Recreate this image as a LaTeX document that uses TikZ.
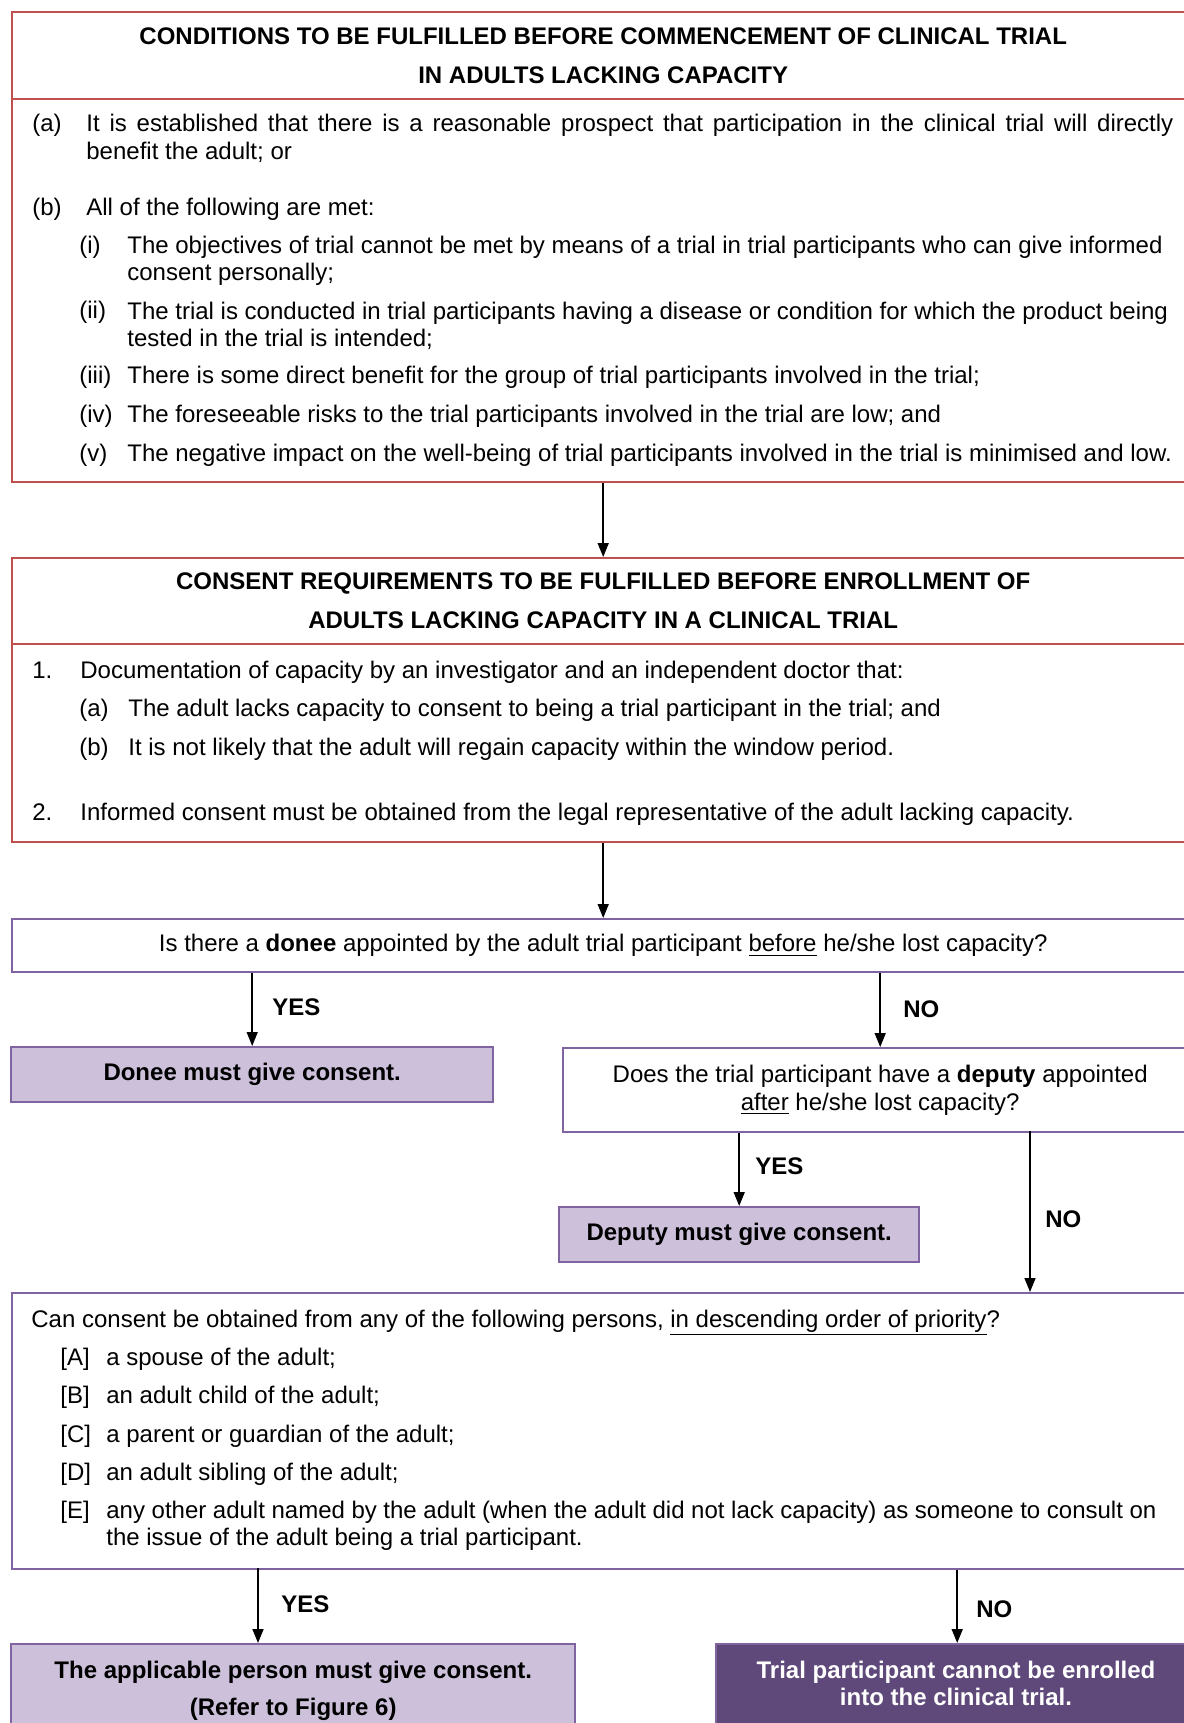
\documentclass[tikz,border=0pt]{standalone}
\usepackage{fontspec}
\setmainfont{Liberation Sans}
\usetikzlibrary{arrows.meta,positioning}
\definecolor{redline}{HTML}{C0504D}
\definecolor{purpline}{HTML}{8064A2}
\definecolor{lilac}{HTML}{CCC0DA}
\definecolor{plum}{HTML}{5F497A}

\begin{document}
\begin{tikzpicture}[
  x=0.5pt, y=-0.5pt,
  >={Triangle[length=7pt,width=5.5pt]},
  redbox/.style={draw=redline, line width=1.2pt, anchor=north west, inner sep=0pt},
  purpbox/.style={draw=purpline, line width=1.2pt, anchor=north west, inner sep=0pt},
  head/.style={align=center, font={\fontsize{12}{19.5}\selectfont\bfseries}},
  txt/.style={anchor=base west, inner sep=0pt, align=left, font={\fontsize{12}{13.5}\selectfont}},
  yn/.style={anchor=west, inner sep=0pt, font={\fontsize{12}{13}\selectfont\bfseries}},
  arr/.style={->, line width=0.8pt},
]
\useasboundingbox (0,0) rectangle (1183,1723);

% conditions before commencement
\node[redbox, head, minimum width=591pt, minimum height=43.5pt] (condhead) at (11,11)
  {CONDITIONS TO BE FULFILLED BEFORE COMMENCEMENT OF CLINICAL TRIAL\\IN ADULTS LACKING CAPACITY};
\node[redbox, minimum width=591pt, minimum height=191.5pt] (condbody) at (11,98) {};
\node[txt] (ca) at (32,132) {(a)};
\node[txt] (cat) at (86,159) {\makebox[543.5pt][s]{It is established that there is a reasonable prospect that participation in the clinical trial will directly}\\benefit the adult; or};
\node[txt] (cb) at (32,215) {(b)};
\node[txt] (cbt) at (86,215) {All of the following are met:};
\node[txt] (ci) at (79,253) {(i)};
\node[txt] (cit) at (127,280) {The objectives of trial cannot be met by means of a trial in trial participants who can give informed\\consent personally;};
\node[txt] (cii) at (79,318) {(ii)};
\node[txt] (ciit) at (127,346) {The trial is conducted in trial participants having a disease or condition for which the product being\\tested in the trial is intended;};
\node[txt] (ciii) at (79,383) {(iii)};
\node[txt] (ciiit) at (127,383) {There is some direct benefit for the group of trial participants involved in the trial;};
\node[txt] (civ) at (79,422) {(iv)};
\node[txt] (civt) at (127,422) {The foreseeable risks to the trial participants involved in the trial are low; and};
\node[txt] (cv) at (79,461) {(v)};
\node[txt] (cvt) at (127,461) {The negative impact on the well-being of trial participants involved in the trial is minimised and low.};

% consent requirements before enrollment
\node[redbox, head, minimum width=591pt, minimum height=43pt] (conshead) at (11,557)
  {CONSENT REQUIREMENTS TO BE FULFILLED BEFORE ENROLLMENT OF\\ADULTS LACKING CAPACITY IN A CLINICAL TRIAL};
\node[redbox, minimum width=591pt, minimum height=99pt] (consbody) at (11,643) {};
\node[txt] (r1) at (32,678) {1.};
\node[txt] (r1t) at (80,678) {Documentation of capacity by an investigator and an independent doctor that:};
\node[txt] (ra) at (79,716) {(a)};
\node[txt] (rat) at (128,716) {The adult lacks capacity to consent to being a trial participant in the trial; and};
\node[txt] (rb) at (79,755) {(b)};
\node[txt] (rbt) at (128,755) {It is not likely that the adult will regain capacity within the window period.};
\node[txt] (r2) at (32,820) {2.};
\node[txt] (r2t) at (80,820) {Informed consent must be obtained from the legal representative of the adult lacking capacity.};

% decisions
\node[purpbox, minimum width=591pt, minimum height=26.5pt, font={\fontsize{12}{13}\selectfont}] (doneeq) at (11,918)
  {Is there a \textbf{donee} appointed by the adult trial participant \underline{before} he/she lost capacity?};
\node[purpbox, fill=lilac, minimum width=241pt, minimum height=27.5pt, font={\fontsize{12}{13}\selectfont\bfseries}] (donee) at (10,1046)
  {Donee must give consent.};
\node[purpbox, align=center, minimum width=317pt, minimum height=42pt, font={\fontsize{12}{14}\selectfont}] (deputyq) at (562,1047)
  {Does the trial participant have a \textbf{deputy} appointed\\\underline{after} he/she lost capacity?};
\node[purpbox, fill=lilac, minimum width=180pt, minimum height=27.5pt, font={\fontsize{12}{13}\selectfont\bfseries}] (deputy) at (558,1206)
  {Deputy must give consent.};

% persons in order of priority
\node[purpbox, minimum width=591pt, minimum height=138pt] (persons) at (11,1292) {};
\node[txt] (p0) at (31,1327) {Can consent be obtained from any of the following persons, \underline{in descending order of priority}?};
\node[txt] (pa) at (60,1365) {[A]};
\node[txt] (pat) at (106,1365) {a spouse of the adult;};
\node[txt] (pb) at (60,1403) {[B]};
\node[txt] (pbt) at (106,1403) {an adult child of the adult;};
\node[txt] (pc) at (60,1442) {[C]};
\node[txt] (pct) at (106,1442) {a parent or guardian of the adult;};
\node[txt] (pd) at (60,1480) {[D]};
\node[txt] (pdt) at (106,1480) {an adult sibling of the adult;};
\node[txt] (pe) at (60,1518) {[E]};
\node[txt] (pet) at (106,1545) {\makebox[525pt][s]{any other adult named by the adult (when the adult did not lack capacity) as someone to consult on}\\the issue of the adult being a trial participant.};

% outcomes
\node[purpbox, fill=lilac, align=center, minimum width=282pt, minimum height=46.5pt, font={\fontsize{12}{18.5}\selectfont\bfseries}] (applic) at (10,1643)
  {The applicable person must give consent.\\(Refer to Figure 6)};
\node[purpbox, fill=plum, minimum width=241pt, minimum height=50pt] (cannot) at (715,1643) {};
\node[align=center, text=white, inner sep=0pt, font={\fontsize{12}{13.5}\selectfont\bfseries}] (cannottxt) at (956,1683)
  {Trial participant cannot be enrolled\\into the clinical trial.};

% connectors
\coordinate (nodeputy) at (1030,1131);
\coordinate (yesperson) at (258,1568);
\draw[arr] (condbody.south) -- (conshead.north);
\draw[arr] (consbody.south) -- (doneeq.north);
\draw[arr] (donee.north |- doneeq.south) -- (donee.north);
\draw[arr] (deputyq.north |- doneeq.south) -- (deputyq.north);
\draw[arr] (deputy.north |- deputyq.south) -- (deputy.north);
\draw[arr] (nodeputy) -- (nodeputy |- persons.north);
\draw[arr] (yesperson) -- (yesperson |- applic.north);
\draw[arr] (cannot.north |- persons.south) -- (cannot.north);

\node[yn] (yes1) at (272,1007) {YES};
\node[yn] (no1) at (903,1009) {NO};
\node[yn] (yes2) at (755,1166) {YES};
\node[yn] (no2) at (1045,1219) {NO};
\node[yn] (yes3) at (281,1604) {YES};
\node[yn] (no3) at (976,1609) {NO};
\end{tikzpicture}
\end{document}
